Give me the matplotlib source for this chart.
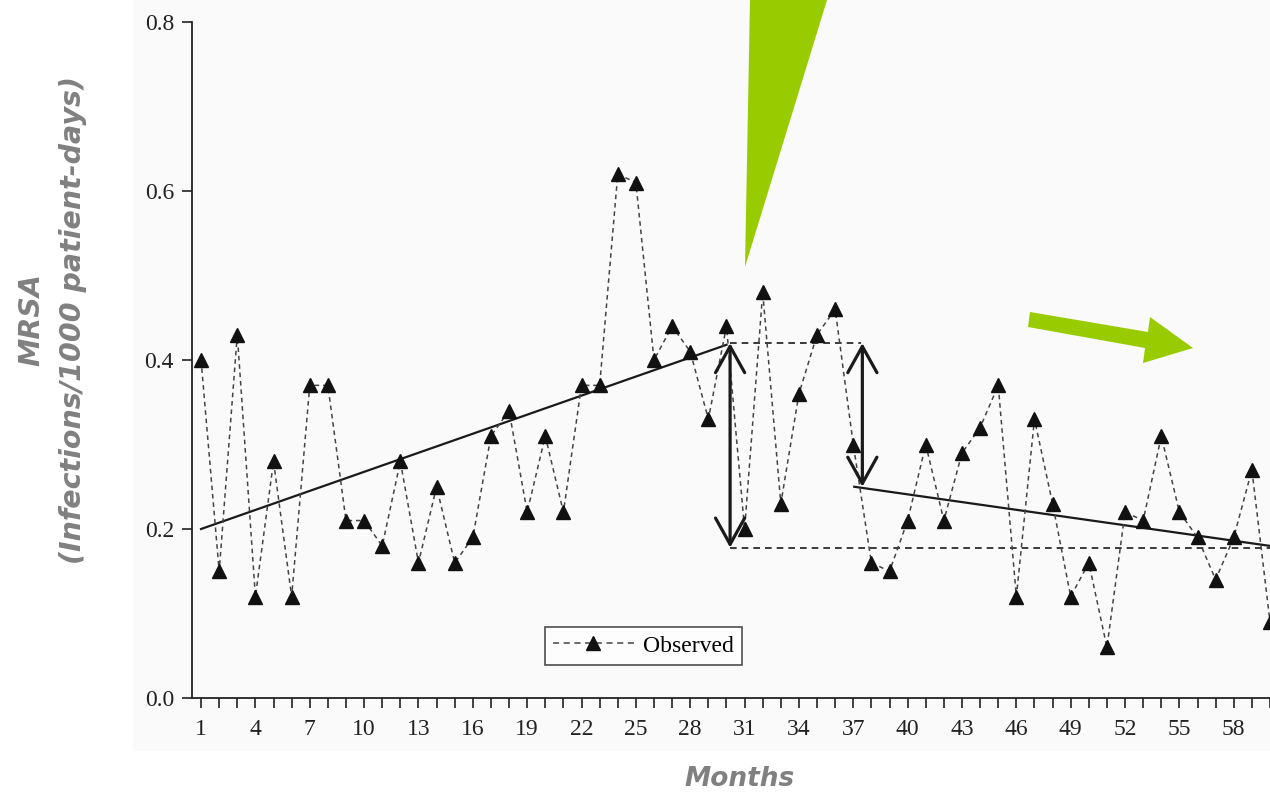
import numpy as np
import matplotlib.pyplot as plt
from matplotlib.patches import Polygon, Rectangle

# monthly MRSA rates (infections / 1000 patient-days)
months = list(range(1, 61))
observed = [0.40, 0.15, 0.43, 0.12, 0.28, 0.12, 0.37, 0.37, 0.21, 0.21,
            0.18, 0.28, 0.16, 0.25, 0.16, 0.19, 0.31, 0.34, 0.22, 0.31,
            0.22, 0.37, 0.37, 0.62, 0.61, 0.40, 0.44, 0.41, 0.33, 0.44,
            0.20, 0.48, 0.23, 0.36, 0.43, 0.46, 0.30, 0.16, 0.15, 0.21,
            0.30, 0.21, 0.29, 0.32, 0.37, 0.12, 0.33, 0.23, 0.12, 0.16,
            0.06, 0.22, 0.21, 0.31, 0.22, 0.19, 0.14, 0.19, 0.27, 0.09]

# segmented regression lines (start month, end month, start value, end value)
pre_trend = [1, 30, 0.20, 0.418]
post_trend = [37.05, 60, 0.25, 0.18]

# reference levels and change arrows
level_top = 0.42
level_bottom = 0.178
arrow1 = [30.2, 0.42, 0.178]
arrow2 = [37.5, 0.42, 0.25]

xtick_labels = list(range(1, 61, 3))
yticks = [0.0, 0.2, 0.4, 0.6, 0.8]

fig = plt.figure(figsize=(12.7, 7.94), dpi=100)

# light scanned-figure background
fig.patches.append(Rectangle((133 / 1270, 1 - 751 / 794), 1 - 133 / 1270, 751 / 794,
                             transform=fig.transFigure, facecolor='#fafafa',
                             edgecolor='none', zorder=-5))

ax = fig.add_axes([192 / 1270, 96 / 794, 1078 / 1270, 676 / 794])
ax.set_facecolor('none')

ax.plot(months, observed, linestyle=(0, (3, 2.5)), color='#444444', lw=1.1,
        marker='^', markersize=10.5, markerfacecolor='#111111',
        markeredgecolor='#111111', label='Observed', zorder=3)

ax.plot(pre_trend[:2], pre_trend[2:], color='#1a1a1a', lw=1.6, zorder=2)
ax.plot(post_trend[:2], post_trend[2:], color='#1a1a1a', lw=1.6, zorder=2)

ax.plot([30.2, 37.4], [level_top, level_top], color='#1a1a1a', lw=1.2,
        linestyle=(0, (4, 3)), zorder=2)
ax.plot([30.2, 60], [level_bottom, level_bottom], color='#1a1a1a', lw=1.2,
        linestyle=(0, (4, 3)), zorder=2)

for ax_x, y0, y1 in [arrow1, arrow2]:
    ax.annotate('', xy=(ax_x, y1), xytext=(ax_x, y0),
                arrowprops=dict(arrowstyle='<->,head_length=0.9,head_width=0.5',
                                color='#1a1a1a', lw=2.3, mutation_scale=21,
                                shrinkA=0, shrinkB=0), zorder=4)

ax.set_xlim(0.5, 59.93)
ax.set_ylim(0, 0.8)
ax.set_xticks(months)
ax.set_xticklabels([str(m) if m in xtick_labels else '' for m in months])
ax.set_yticks(yticks)
ax.set_yticklabels([f'{v:.1f}' for v in yticks])

for side in ['top', 'right']:
    ax.spines[side].set_visible(False)
ax.spines['left'].set_bounds(0, 0.8)
for side in ['left', 'bottom']:
    ax.spines[side].set_color('#222222')
    ax.spines[side].set_linewidth(1.3)

ax.tick_params(axis='both', direction='out', length=7, width=1.2, color='#222222',
               labelsize=17, labelcolor='#222222', pad=6)
ax.tick_params(axis='x', pad=8)
for lab in ax.get_xticklabels() + ax.get_yticklabels():
    lab.set_family('Liberation Serif')

leg = ax.legend(loc='lower left', bbox_to_anchor=(0.3275, 0.049), numpoints=1,
                handlelength=3.4, frameon=True, fancybox=False,
                prop={'family': 'Liberation Serif', 'size': 17},
                borderpad=0.35, handletextpad=0.4, borderaxespad=0)
leg.get_frame().set_edgecolor('#222222')
leg.get_frame().set_linewidth(1.2)
leg.get_lines()[0].set_linestyle((0, (4, 3)))

fig.text(52 / 1270, 1 - 320 / 794, 'MRSA\n(Infections/1000 patient-days)',
         rotation=90, ha='center', va='center', fontsize=20.5, fontweight='bold',
         fontstyle='italic', color='#808080', linespacing=1.6,
         family='DejaVu Sans')
fig.text(740 / 1270, 1 - 779 / 794, 'Months', ha='center', va='center',
         fontsize=19, fontweight='bold', fontstyle='italic', color='#808080',
         family='DejaVu Sans')

# green callout shapes (pixel vertices of the overlay)
wedge = [(750, 0), (827, 0), (745, 267)]
arrow_shape = [(1030, 312), (1148, 332), (1150, 317), (1193, 348),
               (1143, 363), (1145, 348), (1028, 327)]
for shape in [wedge, arrow_shape]:
    pts = [(px / 1270, 1 - py / 794) for px, py in shape]
    fig.patches.append(Polygon(pts, closed=True, transform=fig.transFigure,
                               facecolor='#99cc00', edgecolor='none', zorder=5))

fig.savefig('out.png', dpi=100)
